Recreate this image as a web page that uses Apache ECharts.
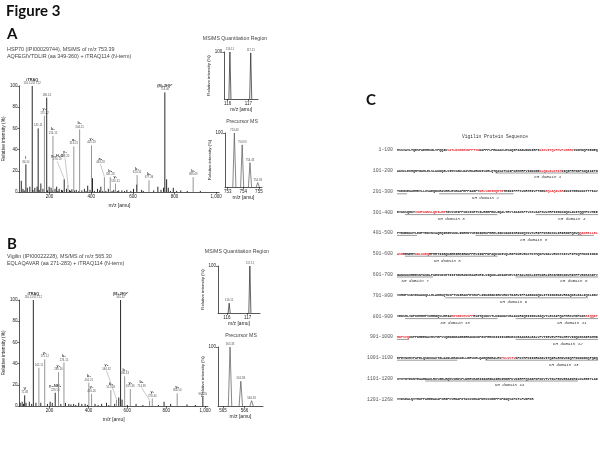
<!DOCTYPE html>
<html><head><meta charset="utf-8">
<script src="https://cdn.jsdelivr.net/npm/echarts@6/dist/echarts.min.js"></script>
<style>html,body{margin:0;padding:0;background:#fff}#c{width:600px;height:450px}</style>
</head><body><div id="c"></div>
<script>
// ---------------- DATA ----------------
// Panel A main MS/MS spectrum, annotated peaks
const A_MZ  = [86.10, 116.6, 145.11, 175.12, 186.12, 216.15, 270.19, 288.20, 316.21, 344.21, 401.29, 463.28, 491.28, 516.31, 620.32, 677.34, 753.40, 889.49];
const A_INT = [26, 100, 60, 72, 89, 53, 12, 7, 43, 59, 44, 14, 14, 8, 16, 11, 94, 14];
const A_ION = ['I', 'iTRAQ', '', 'y\u2081', '', 'b\u2081', 'y\u2082-H\u2082O', 'y\u2082', 'a\u2082', 'b\u2082', 'y\u2083', 'a\u2083', 'b\u2083', 'y\u2084', 'b\u2084', 'b\u2085', '(M+2H)\u00b2\u207a', 'b\u2087'];
const A_TXT = ['86.10', '116.11/117.12', '145.11', '175.12', '186.14', '216.15', '270.19', '288.20', '316.21', '344.21', '401.29', '463.28', '491.28', '516.31', '620.32', '677.34', '753.40', '889.49'];
const A_TONE = ['k','k','k','g','k','g','k','g','g','g','g','g','g','g','g','g','k','g'];
// Panel A unannotated peaks
const A_NOISE_MZ  = [64, 72, 78, 93, 105, 120, 129, 140, 150, 158, 168, 190, 198, 207, 215, 226, 234, 240, 246, 257, 262, 281, 296, 300, 307, 320, 328, 340, 355, 367, 375, 383, 394, 406, 415, 430, 440, 446, 455, 470, 482, 500, 508, 525, 532, 547, 560, 571, 590, 603, 618, 642, 650, 700, 720, 735, 747, 762, 770, 780, 794, 810, 830, 861, 924];
const A_NOISE_INT = [10.6, 3, 1.5, 4, 5, 2, 4, 5, 2, 8, 3, 1.5, 5, 4, 1.5, 3, 5, 1, 3, 2, 1.5, 3, 2, 1, 2.5, 1.5, 2, 1, 1.5, 3, 1, 6, 2, 13, 1, 3, 1.5, 5, 1, 1, 3, 1, 2, 1, 1.5, 1.5, 1, 2, 1, 3, 7, 2, 1, 1.5, 5, 2, 4, 12, 4, 1, 4, 1, 1.5, 1, 1];

// Panel A insets
const A_Q_MZ = [116.11, 117.11], A_Q_INT = [100, 98], A_Q_TXT = ['116.11', '117.11'];
const A_P_MZ = [753.43, 753.93, 754.43, 754.93], A_P_INT = [100, 78, 45, 8], A_P_TXT = ['753.43', '753.93', '754.43', '754.93'];

// Panel B main MS/MS spectrum, annotated peaks
const B_MZ  = [72.08, 116.6, 145.11, 175.12, 229.13, 246.16, 274.15, 402.21, 416.26, 515.29, 544.32, 565.33, 586.33, 615.36, 714.39, 728.44, 856.50, 988.5];
const B_INT = [10, 100, 36, 44, 12.5, 32, 41, 22, 11.5, 15, 6, 100, 28, 16, 5, 7, 12, 8.5];
const B_ION = ['V', 'iTRAQ', '', 'y\u2081', 'y\u2082-NH\u2083', 'y\u2082', 'b\u2081', 'b\u2082', 'y\u2084', 'b\u2083', 'y\u2085', '(M+2H)\u00b2\u207a', 'b\u2084', 'y\u2086', 'b\u2085', 'y\u2087', 'y\u2088', ''];
const B_TXT = ['72.08', '116.11/117.12', '145.11', '175.12', '229.13', '246.16', '274.15', '402.21', '416.26', '515.29', '544.32', '565.32', '586.33', '615.36', '714.39', '728.44', '856.50', '988.55'];
const B_TONE = ['k','k','g','g','k','g','g','g','g','g','g','k','g','g','g','g','g','k'];
const B_NOISE_MZ  = [49, 59, 66, 79, 96, 108, 130, 155, 189, 203, 214, 258, 282, 299, 310, 324, 335, 350, 366, 383, 395, 434, 450, 468, 493, 505, 535, 556, 573, 600, 645, 680, 760, 789, 823, 907, 950];
const B_NOISE_INT = [3, 4, 2, 3, 4, 2, 3, 3, 2, 4, 3, 2, 3, 2, 1.5, 2, 1, 3, 2, 2, 1, 2, 1, 2, 3, 1, 2, 8, 6, 1, 2, 1, 1, 4, 2, 1.5, 1];

// Panel B insets
const B_Q_MZ = [116.11, 117.11], B_Q_INT = [21, 100], B_Q_TXT = ['116.11', '117.11'];
const B_P_MZ = [565.33, 565.83, 566.33], B_P_INT = [100, 42, 9], B_P_TXT = ['565.33', '565.83', '566.33'];

// Tick labels
const MAIN_TICKS = [200, 400, 600, 800, 1000];
const Q_TICKS = [116, 117];
const A_P_TICKS = [753, 754, 755];
const B_P_TICKS = [565, 566];

// Panel C: Vigilin sequence
const ROW_LABELS = ['1-100','101-200','201-300','301-400','401-500','501-600','601-700','701-800','801-900','901-1000','1001-1100','1101-1200','1201-1268'];
const SEQ_ROWS = [
 'MSSVAVLTQESFAEHRSGLVPQQIKVATLNSEEESDPPTYKDAFPPLPEKAACLESAQEPAGAWGNKIRPIKASVITQVFHVPLEERKYKDMNQFGEGEQ',
 'AKICLEIMQRTGAHLELSLAKDQGLSIMVSGKLDAVMKARKDIVARLQTQASATVAIPKEHHRFVIGKNGEKLQDLELKTATKIQIPRPDDPSNQIKITG',
 'TKEGIEKARHEVLLISAEQDKRAVERLEVEKAFHPFIAGPYNRLVGEIMQETGTRINIPPPSVNRTEIVFTGEKEQLAQAVARIKKIYEEKKKKTTTIAV',
 'EVKKSQHKYVIGPKGNSLQEILERTGVSVEIPPSDSISETVILRGEPEKLGQALTEVYAKANSFTVSSVAAPSWLHRFIIGKKGQNLAKITQQMPKVHIE',
 'FTEGEDKITLEGPTEDVNVAQEQIEGMVKDLINRMDYVEINIDHKFHRHLIGKSGANINRIKDQYKVSVRIPPDSEKSNLIRIEGDPQGVQQAKRELLEL',
 'ASRMENERTKDLIIEQRFHRTIIGQKGERIREIRDKFPEVIINFPDPAQKSDIVQLRGPKNEVEKCTKYMQKMVADLVENSYSISVPIFKQFHKNIIGKG',
 'GANIKKIREESNTKIDLPAENSNSETIIITGKRANCEAARSRILSIQKDLANIAEVEVSIPAKLHNSLIGTKGRLIRSIMEECGGVHIHFPVEGSGSDTV',
 'VIRGPSSDVEKAKKQLLHLAEEKQTKSFTVDIRAKPEYHKFLIGKGGGKIRKVRDSTGARVIFPAAEDKDQDLITIIGKEDAVREAQKELEALIQNLDNV',
 'VEDSMLVDPKHHRHFVIRRGQVLREIAEEYGGVMVSFPRSGTQSDKVTLKGAKDCVEAAKKRIQEIIEDLEAQVTLECAIPQKFHRSVMGPKGSRIQQIT',
 'RDFSVQIKFPDREENAVHSTEPVVQENGDEAGEGREAKDCDPGSPRRCDIIIISGRKEKCEAAKEALEALVPVTIEVEVPFDLHRYVIGQKGSGIRKMMD',
 'EFEVNIHVPAPELQSDIIAITGLAANLDRAKAGLLERVKELQAEQEDRALRSFKLSVTVDPKYHPKIIGRKGAVITQIRLEHDVNIQFPDKDDGNQPQDQ',
 'ITITGYEKNTEAARDAILRIVGELEQMVSEDVPLDHRVHARIIGARGKAIRKIMDEFKVDIRFPQSGAPDPNCVTVTGLPENVEEAIDHILNLEEEYLAD',
 'VVDSEALQVYMKPPAHEEAKAPSRGFVVRDAPWTASSSEKAPDMSSSEEFPSFGAQVAPKTLPWGPKR'
];
const RED_SPANS = [[26,41],[72,88],[172,182],[242,253],[275,283],[310,324],[492,503],[510,516],[828,838],[895,906],[1053,1059]];
const KH_SPANS = [[150,205],[222,258],[305,350],[370,410],[440,498],[505,550],[601,618],[660,700],[725,795],[805,850],[860,906],[960,1000],[1001,1030],[1045,1100],[1115,1190]];
const KH_NAMES = ['KH domain 1','KH domain 2','KH domain 3','KH domain 4','KH domain 5','KH domain 6','KH domain 7','KH domain 8','KH domain 9','KH domain 10','KH domain 11','KH domain 12','KH domain 13','KH domain 14'];
const KH_CENTERS = [176, 245, 328, 388, 469, 526, 610, 689, 759, 830, 888, 986, 1084, 1157];

// ---------------- LAYOUT ----------------
const SANS = 'Arial, "Liberation Sans", sans-serif';
const MONO = '"Liberation Mono", "Courier New", monospace';
const A_SHIFT = {6: [-7, -17], 7: [-3, -26], 11: [-4, -12]};
const B_SHIFT = {10: [-10, -28], 14: [-8, -12]};

function spectrumSeries(gi, mz, inten, ion, txt, tone, shift) {
  return {
    type: 'custom', xAxisIndex: gi, yAxisIndex: gi, silent: true, clip: false,
    encode: {x: 0, y: 1},
    data: mz.map((m, i) => [m, inten[i], i]),
    renderItem: function (params, api) {
      const i = api.value(2);
      const top = api.coord([api.value(0), api.value(1)]);
      const base = api.coord([api.value(0), 0]);
      const col = tone && tone[i] === 'g' ? '#8a8a8a' : '#111';
      const ch = [{type: 'line', shape: {x1: top[0], y1: base[1], x2: top[0], y2: top[1]}, style: {stroke: col, lineWidth: 0.9}}];
      if (txt) {
        const s = (shift && shift[i]) || [0, 0];
        const lx = top[0] + s[0], ly = top[1] - 1 + s[1];
        const t = (ion[i] ? '{n|' + ion[i] + '}\n' : '') + '{v|' + txt[i] + '}';
        ch.push({type: 'text', x: lx, y: ly, style: {text: t, align: 'center', verticalAlign: 'bottom',
          rich: {n: {fontSize: 3.8, fontWeight: 'bold', fill: '#333', fontFamily: SANS, lineHeight: 4.2},
                 v: {fontSize: 2.8, fill: '#555', fontFamily: SANS, lineHeight: 3.4}}}});
        if (s[0] || s[1]) ch.push({type: 'line', shape: {x1: lx, y1: ly, x2: top[0], y2: top[1] - 0.5}, style: {stroke: '#777', lineWidth: 0.4}});
      }
      return {type: 'group', children: ch};
    }
  };
}
function insetSeries(gi, mz, inten, txt, half, col) {
  return {
    type: 'custom', xAxisIndex: gi, yAxisIndex: gi, silent: true, clip: false,
    encode: {x: 0, y: 1},
    data: mz.map((m, i) => [m, inten[i], i]),
    renderItem: function (params, api) {
      const m = api.value(0), I = api.value(1), i = api.value(2);
      const p0 = api.coord([m - half, 0]), p1 = api.coord([m, I]), p2 = api.coord([m + half, 0]);
      return {type: 'group', children: [
        {type: 'polyline', shape: {points: [p0, p1, p2]}, style: {stroke: col, fill: null, lineWidth: 0.7}},
        {type: 'text', x: p1[0], y: p1[1] - 1, style: {text: txt[i], fontSize: 2.8, fill: '#555', fontFamily: SANS, align: 'center', verticalAlign: 'bottom'}}
      ]};
    }
  };
}
const axLine = {show: true, lineStyle: {color: '#111', width: 0.7}};
function xAx(gi, min, max, ticks, gap) {
  return {type: 'value', gridIndex: gi, min, max, axisLine: axLine,
    axisTick: {show: true, length: 2, customValues: ticks, lineStyle: {color: '#111', width: 0.6}},
    axisLabel: {customValues: ticks, fontSize: 4.5, margin: 2.5, color: '#222', fontFamily: SANS},
    splitLine: {show: false}, name: 'm/z [amu]', nameLocation: 'middle', nameGap: gap,
    nameTextStyle: {fontSize: 5, color: '#222', fontFamily: SANS}};
}
function yAx(gi, main, gap) {
  const o = {type: 'value', gridIndex: gi, min: 0, max: 100, axisLine: axLine,
    axisTick: {show: true, length: 2, lineStyle: {color: '#111', width: 0.6}},
    axisLabel: {fontSize: 4.5, margin: 2, color: '#222', fontFamily: SANS},
    splitLine: {show: false}, name: 'Relative intensity (%)', nameLocation: 'middle', nameGap: gap,
    nameTextStyle: {fontSize: main ? 4.8 : 4.3, color: '#222', fontFamily: SANS}};
  if (main) o.interval = 20; else { o.axisTick.customValues = [100]; o.axisLabel.customValues = [100]; }
  return o;
}

// ---------------- GRAPHICS (headings, panel C) ----------------
const g = [];
function txt(x, y, text, fs, opt) {
  g.push({type: 'text', x, y, silent: true, style: Object.assign({text, fontSize: fs, fontFamily: SANS, fill: '#333', align: 'left', verticalAlign: 'middle'}, opt || {})});
}
const HEAD = {fontFamily: 'Lato, "Open Sans", sans-serif', fontWeight: 'bold', fill: '#111', verticalAlign: 'top'};
txt(6, 4, 'Figure 3', 15, HEAD);
txt(7, 27, 'A', 15, HEAD);
txt(7, 237, 'B', 15, HEAD);
txt(366, 93, 'C', 15, HEAD);
txt(7, 50, 'HSP70 (IPI00029744), MS/MS of m/z 753.39', 5.4, {fill: '#444'});
txt(7, 57, 'AQFEGIVTDLIR (aa 349-360) + iTRAQ114 (N-term)', 5.4, {fill: '#444'});
txt(7, 257, 'Vigilin (IPI00022228), MS/MS of m/z 565.30', 5.4, {fill: '#444'});
txt(7, 264, 'EQLAQAVAR (aa 271-283) + iTRAQ114 (N-term)', 5.4, {fill: '#444'});
txt(235, 39, 'MS/MS Quantitation Region', 5.2, {align: 'center', fill: '#444'});
txt(242, 122, 'Precursor MS', 5.2, {align: 'center', fill: '#444'});
txt(237, 252, 'MS/MS Quantitation Region', 5.2, {align: 'center', fill: '#444'});
txt(241, 336, 'Precursor MS', 5.2, {align: 'center', fill: '#444'});

const SEQ_X = 397, CW = 2.01, FS = CW / 0.6, ROW_Y0 = 150, ROW_DY = 20.8;
txt(495, 137, 'Vigilin Protein Sequence', 4.6, {align: 'center', fontFamily: MONO, fill: '#333'});
SEQ_ROWS.forEach((row, r) => {
  const start = r * 100 + 1, y = ROW_Y0 + r * ROW_DY;
  let text = '', cur = null, buf = '';
  for (let k = 0; k < row.length; k++) {
    const res = start + k;
    const t = RED_SPANS.some(([a, b]) => res >= a && res <= b) ? 'r' : 'k';
    if (t !== cur) { if (buf) text += '{' + cur + '|' + buf + '}'; buf = ''; cur = t; }
    buf += row[k];
  }
  text += '{' + cur + '|' + buf + '}';
  g.push({type: 'text', x: SEQ_X, y, silent: true, style: {text, align: 'left', verticalAlign: 'middle', fontSize: FS, fontFamily: MONO,
    rich: {k: {fill: '#111', fontSize: FS, fontFamily: MONO, fontWeight: 'bold'}, r: {fill: '#e3262e', fontSize: FS, fontFamily: MONO, fontWeight: 'bold'}}}});
  txt(SEQ_X - 4, y, ROW_LABELS[r], 4.8, {align: 'right', fontFamily: MONO, fill: '#555'});
  KH_SPANS.forEach(([a, b]) => {
    const s = Math.max(a, start), e = Math.min(b, start + row.length - 1);
    if (s <= e) g.push({type: 'line', silent: true, shape: {x1: SEQ_X + (s - start) * CW, y1: y + 2.2, x2: SEQ_X + (e - start + 1) * CW, y2: y + 2.2}, style: {stroke: '#333', lineWidth: 0.5}});
  });
});
KH_CENTERS.forEach((c, i) => {
  const r = Math.floor((c - 1) / 100);
  txt(SEQ_X + ((c - 1) % 100) * CW, ROW_Y0 + r * ROW_DY + 6.5, KH_NAMES[i], 4.1, {align: 'center', fontFamily: MONO, fill: '#333', fontStyle: 'italic'});
});

// ---------------- OPTION ----------------
const option = {
  animation: false,
  backgroundColor: '#fff',
  grid: [
    {left: 15.3, top: 86, width: 204, height: 106},
    {left: 224.3, top: 52, width: 33.7, height: 47},
    {left: 225, top: 133, width: 37, height: 54},
    {left: 16.6, top: 300, width: 191.4, height: 106},
    {left: 218, top: 266, width: 42, height: 47},
    {left: 218, top: 347, width: 45, height: 59}
  ],
  xAxis: [
    xAx(0, 55, 1015, MAIN_TICKS, 11),
    xAx(1, 115.84, 117.46, Q_TICKS, 8),
    xAx(2, 752.83, 755.2, A_P_TICKS, 8),
    xAx(3, 45, 1015, MAIN_TICKS, 11),
    xAx(4, 115.57, 117.6, Q_TICKS, 8),
    xAx(5, 564.77, 566.86, B_P_TICKS, 8)
  ],
  yAxis: [yAx(0, true, 10), yAx(1, false, 8), yAx(2, false, 8), yAx(3, true, 10), yAx(4, false, 8), yAx(5, false, 8)],
  series: [
    spectrumSeries(0, A_NOISE_MZ, A_NOISE_INT, null, null, null, null),
    spectrumSeries(0, A_MZ, A_INT, A_ION, A_TXT, A_TONE, A_SHIFT),
    insetSeries(1, A_Q_MZ, A_Q_INT, A_Q_TXT, 0.05, '#222'),
    insetSeries(2, A_P_MZ, A_P_INT, A_P_TXT, 0.1, '#555'),
    spectrumSeries(3, B_NOISE_MZ, B_NOISE_INT, null, null, null, null),
    spectrumSeries(3, B_MZ, B_INT, B_ION, B_TXT, B_TONE, B_SHIFT),
    insetSeries(4, B_Q_MZ, B_Q_INT, B_Q_TXT, 0.05, '#222'),
    insetSeries(5, B_P_MZ, B_P_INT, B_P_TXT, 0.08, '#555')
  ],
  graphic: g
};
echarts.init(document.getElementById('c'), null, {renderer: 'canvas'}).setOption(option);
</script></body></html>
